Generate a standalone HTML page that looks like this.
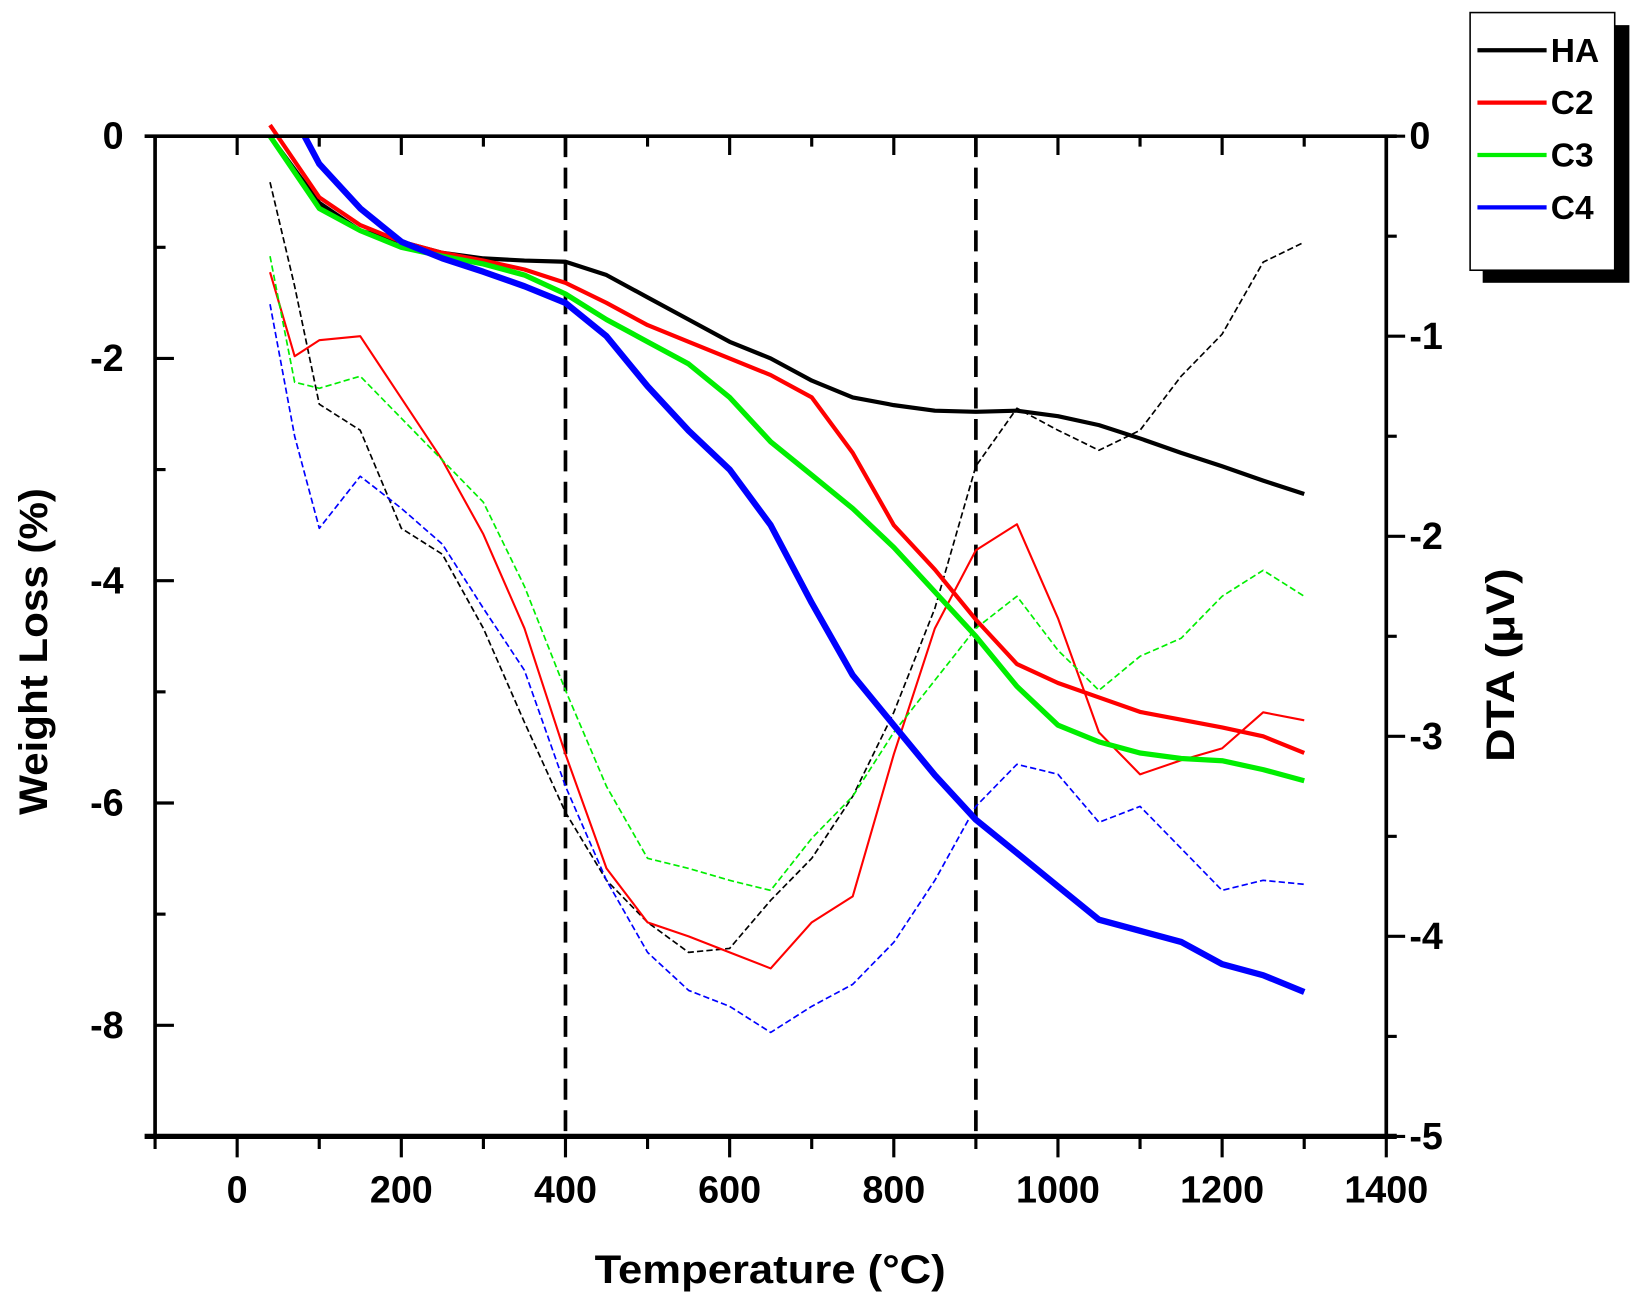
<!DOCTYPE html>
<html><head><meta charset="utf-8"><style>
html,body{margin:0;padding:0;background:#fff;}
svg{display:block;}
text{font-family:"Liberation Sans",sans-serif;font-weight:bold;fill:#000;}
</style></head><body>
<svg id="chart" width="1643" height="1304" viewBox="0 0 1568 1245" preserveAspectRatio="none" xmlns="http://www.w3.org/2000/svg">
<g id="grid"></g><g id="series"></g><g id="axes"></g>
<g>
<rect x="1415" y="24" width="140" height="246" fill="#000"/>
<rect x="1403" y="12" width="138" height="246" fill="#fff" stroke="#000" stroke-width="1.5"/>
<line x1="1410" y1="48" x2="1476" y2="48" stroke="#000" stroke-width="4"/>
<text x="1480" y="59" font-size="32">HA</text>
<line x1="1410" y1="98" x2="1476" y2="98" stroke="#ff0000" stroke-width="4"/>
<text x="1480" y="109" font-size="32">C2</text>
<line x1="1410" y1="148" x2="1476" y2="148" stroke="#00ee00" stroke-width="4"/>
<text x="1480" y="159" font-size="32">C3</text>
<line x1="1410" y1="198" x2="1476" y2="198" stroke="#0000ff" stroke-width="4"/>
<text x="1480" y="209" font-size="32">C4</text>
</g>
<text x="735" y="1225" font-size="38" text-anchor="middle" textLength="335" lengthAdjust="spacingAndGlyphs">Temperature (°C)</text>
<text transform="translate(45,622) rotate(-90)" font-size="38" text-anchor="middle" textLength="312" lengthAdjust="spacingAndGlyphs">Weight Loss (%)</text>
<text transform="translate(1445,635) rotate(-90)" font-size="38" text-anchor="middle" textLength="185" lengthAdjust="spacingAndGlyphs">DTA (μV)</text>
</svg>
<script>
const temps = [40,100,150,200,250,300,350,400,450,500,550,600,650,700,750,800,850,900,950,1000,1050,1100,1150,1200,1250,1300];
const haTGA = [0,-0.6,-0.85,-0.95,-1.05,-1.1,-1.12,-1.13,-1.25,-1.45,-1.65,-1.85,-2.0,-2.2,-2.35,-2.42,-2.47,-2.48,-2.47,-2.52,-2.6,-2.72,-2.85,-2.97,-3.1,-3.22];
const c2TGA = [0.1,-0.55,-0.8,-0.95,-1.05,-1.12,-1.2,-1.32,-1.5,-1.7,-1.85,-2.0,-2.15,-2.35,-2.85,-3.5,-3.9,-4.35,-4.75,-4.92,-5.05,-5.18,-5.25,-5.32,-5.4,-5.55];
const c3TGA = [0,-0.65,-0.85,-1.0,-1.08,-1.15,-1.25,-1.42,-1.65,-1.85,-2.05,-2.35,-2.75,-3.05,-3.35,-3.7,-4.1,-4.5,-4.95,-5.3,-5.45,-5.55,-5.6,-5.62,-5.7,-5.8];
const c4Temps = [82,100,150,200,250,300,350,400,450,500,550,600,650,700,750,800,850,900,950,1000,1050,1100,1150,1200,1250,1300];
const c4TGA = [0,-0.25,-0.65,-0.95,-1.1,-1.22,-1.35,-1.5,-1.8,-2.25,-2.65,-3.0,-3.5,-4.2,-4.85,-5.3,-5.75,-6.15,-6.45,-6.75,-7.05,-7.15,-7.25,-7.45,-7.55,-7.7];
const dtaTemps = [40,70,100,150,200,250,300,350,400,450,500,550,600,650,700,750,800,850,900,950,1000,1050,1100,1150,1200,1250,1300];
const haDTA = [-0.23,-0.75,-1.34,-1.47,-1.96,-2.09,-2.46,-2.93,-3.38,-3.72,-3.93,-4.08,-4.06,-3.82,-3.61,-3.30,-2.88,-2.36,-1.65,-1.36,-1.47,-1.57,-1.47,-1.20,-0.99,-0.63,-0.53];
const c2DTA = [-0.68,-1.1,-1.02,-1.0,-1.31,-1.62,-1.99,-2.46,-3.09,-3.66,-3.93,-4.0,-4.08,-4.16,-3.93,-3.8,-3.09,-2.46,-2.07,-1.94,-2.41,-2.98,-3.19,-3.12,-3.06,-2.88,-2.92];
const c3DTA = [-0.6,-1.23,-1.26,-1.2,-1.41,-1.62,-1.83,-2.25,-2.77,-3.25,-3.61,-3.66,-3.72,-3.77,-3.51,-3.30,-2.98,-2.72,-2.46,-2.30,-2.57,-2.77,-2.6,-2.51,-2.30,-2.17,-2.30];
const c4DTA = [-0.84,-1.5,-1.96,-1.70,-1.86,-2.04,-2.36,-2.67,-3.25,-3.72,-4.08,-4.27,-4.35,-4.48,-4.35,-4.24,-4.03,-3.72,-3.35,-3.14,-3.19,-3.43,-3.35,-3.56,-3.77,-3.72,-3.74];
const xTicks = [0,200,400,600,800,1000,1200,1400];
const leftTicks = [0,-2,-4,-6,-8];
const rightTicks = [0,-1,-2,-3,-4,-5];
const markers = [400,900];

const NS="http://www.w3.org/2000/svg";
const X0=148,X1=1323,Y0=130,Y1=1085;
const xs=t=>X0+(t+100)/1500*(X1-X0);
const yl=v=>Y0+(-v)/9*(Y1-Y0);
const yr=v=>Y0+(-v)/5*(Y1-Y0);
function mk(tag,attrs,parent){const e=document.createElementNS(NS,tag);for(const k in attrs)e.setAttribute(k,attrs[k]);parent.appendChild(e);return e;}
const axes=document.getElementById('axes'),series=document.getElementById('series'),grid=document.getElementById('grid');

markers.forEach(m=>{
 const l=mk('line',{x1:xs(m),y1:Y0,x2:xs(m),y2:Y1,stroke:'#000','stroke-width':3.5,'stroke-dasharray':'20 10'},grid);
 
 
});

function path(tx,vals,yf,color,w,dash,name){
 const d=vals.map((v,i)=>(i?'L':'M')+xs(tx[i]).toFixed(1)+','+yf(v).toFixed(1)).join(' ');
 const a={d:d,fill:'none',stroke:color,'stroke-width':w,'stroke-linejoin':'round'};
 if(dash)a['stroke-dasharray']=dash;
 const p=mk('path',a,series);
 
 
}
path(dtaTemps,haDTA,yr,'#000',1.6,'6 3','ha-dta-line');
path(dtaTemps,c2DTA,yr,'#ff0000',2,'','c2-dta-line');
path(dtaTemps,c3DTA,yr,'#00ee00',1.6,'6 3','c3-dta-line');
path(dtaTemps,c4DTA,yr,'#0000ff',1.6,'6 3','c4-dta-line');
path(temps,haTGA,yl,'#000',4,'','ha-tga-line');
path(temps,c2TGA,yl,'#ff0000',4,'','c2-tga-line');
path(temps,c3TGA,yl,'#00ee00',5,'','c3-tga-line');
path(c4Temps,c4TGA,yl,'#0000ff',6,'','c4-tga-line');

const frame=[[X0-10,Y0,X1+10,Y0],[X0,Y0,X0,Y1],[X1,Y0,X1,Y1],[X0-10,Y1,X1+10,Y1]];
frame.forEach((f,i)=>{const l=mk('line',{x1:f[0],y1:f[1],x2:f[2],y2:f[3],stroke:'#000','stroke-width':i===3?5:3.5},axes);
 
 });

for(let t=-100;t<=1400;t+=100){
 const major=(t%200===0);
 mk('line',{x1:xs(t),y1:Y1,x2:xs(t),y2:Y1+(major?20:12),stroke:'#000','stroke-width':3},axes);
 mk('line',{x1:xs(t),y1:Y0,x2:xs(t),y2:Y0+(major?18:10),stroke:'#000','stroke-width':3},axes);
}
xTicks.forEach(t=>{const e=mk('text',{x:xs(t),y:Y1+63,'font-size':36,'text-anchor':'middle'},axes);e.textContent=t;
 
 });
for(let v=0;v>=-9;v--){mk('line',{x1:X0,y1:yl(v),x2:X0+(v%2===0?18:10),y2:yl(v),stroke:'#000','stroke-width':3},axes);}
leftTicks.forEach(v=>{const e=mk('text',{x:X0-30,y:yl(v)+12,'font-size':36,'text-anchor':'end'},axes);e.textContent=v;
 
 });
for(let v=0;v>=-5;v-=0.5){const maj=Number.isInteger(v);mk('line',{x1:X1,y1:yr(v),x2:X1+(maj?18:10),y2:yr(v),stroke:'#000','stroke-width':3},axes);}
rightTicks.forEach(v=>{const e=mk('text',{x:X1+22,y:yr(v)+12,'font-size':36,'text-anchor':'start'},axes);e.textContent=v;
 
 });
</script>
</body></html>
